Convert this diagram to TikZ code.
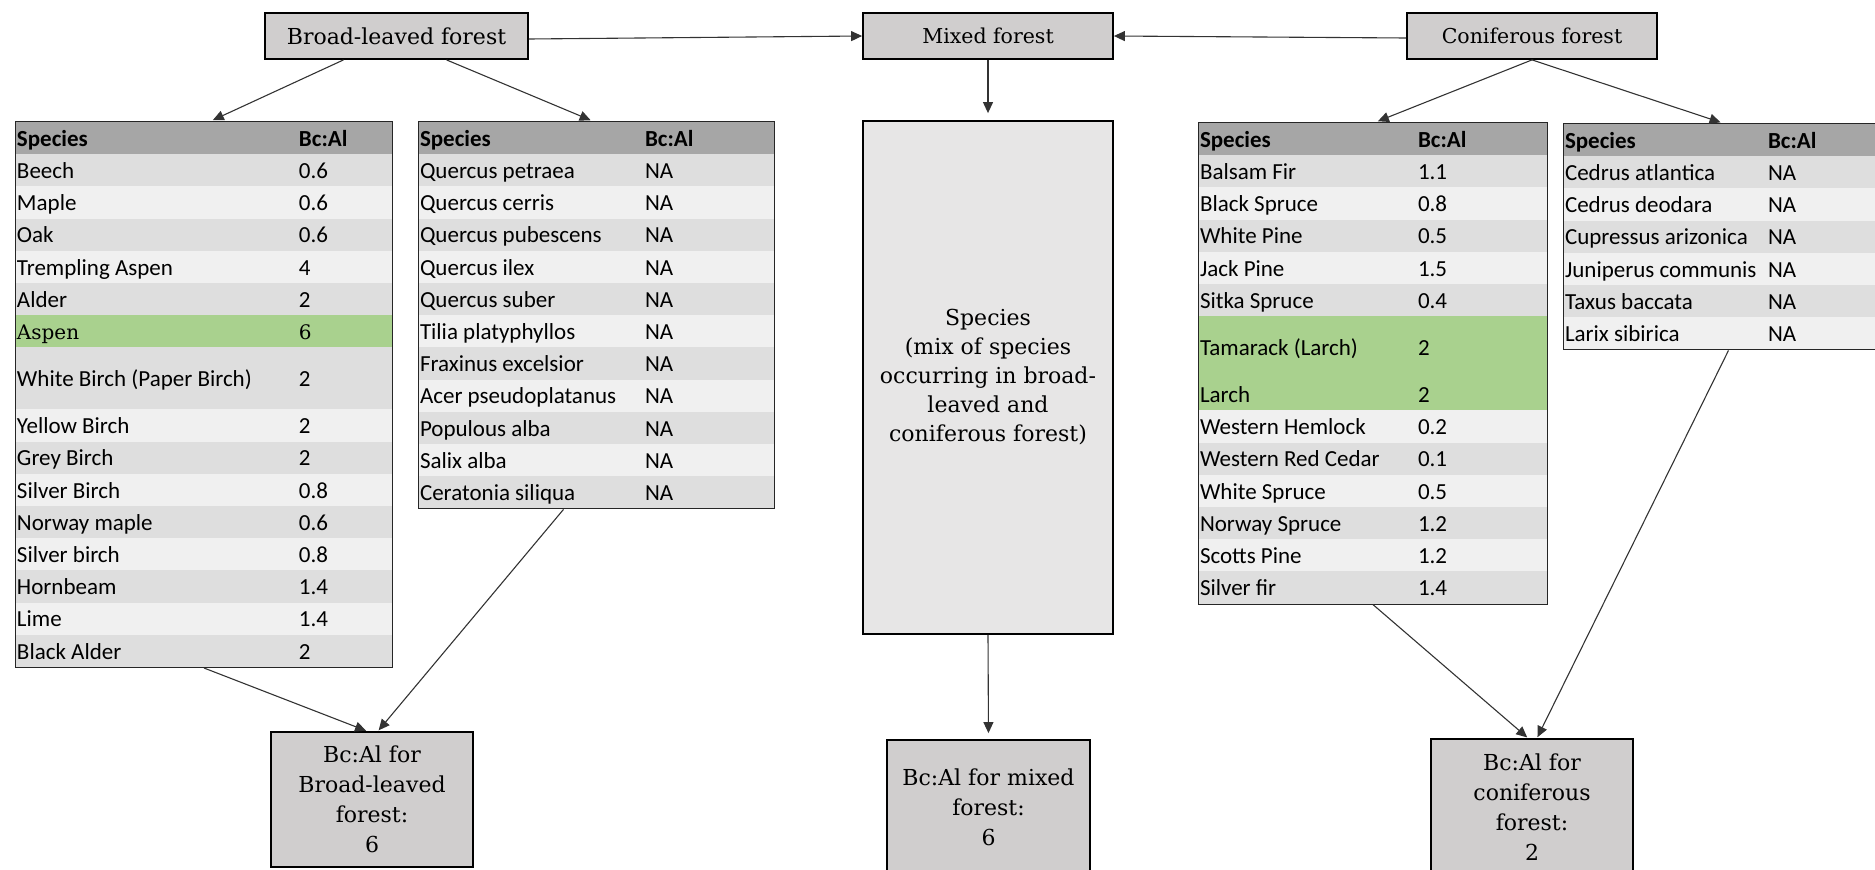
\PassOptionsToPackage{table}{xcolor}
\documentclass[tikz,border=0pt]{standalone}
\usepackage{fontspec}
\setmainfont{DejaVu Serif}
\newfontfamily\tabfont{Carlito}
\usepackage{array}
\usepackage{xcolor}
\usetikzlibrary{arrows.meta}
\definecolor{headGray}{HTML}{A6A6A6}
\definecolor{rowDark}{HTML}{DEDEDE}
\definecolor{rowLight}{HTML}{F0F0F0}
\definecolor{hiGreen}{HTML}{A9D18E}
\definecolor{boxGray}{HTML}{D0CECE}
\definecolor{mixGray}{HTML}{E7E6E6}
\setlength{\tabcolsep}{1pt}
\renewcommand{\arraystretch}{0.9}
\newcommand{\rowstrut}{\rule[-8pt]{0pt}{32.2pt}}
\newcommand{\tallstrut}{\rule[-23pt]{0pt}{62pt}}
\newcommand{\headrow}{\rowcolor{headGray}\textbf{Species} & \textbf{Bc:Al}\\}
\newcommand{\rowD}{\rowcolor{rowDark}}
\newcommand{\rowL}{\rowcolor{rowLight}}
\newcommand{\rowG}{\rowcolor{hiGreen}}

\begin{document}
\begin{tikzpicture}[x=1pt,y=-1pt,
tabnode/.style={draw=black!85,line width=2pt,inner sep=0pt,anchor=north west,font=\tabfont\fontsize{23}{27}\selectfont},
box/.style={draw=black,line width=1.8pt,fill=boxGray,inner sep=0pt,align=center},
topbox/.style={box,minimum width=250pt,minimum height=46pt,font=\fontsize{20.5}{24}\selectfont},
resbox/.style={box,minimum width=202pt,minimum height=135pt,font=\fontsize{22}{30}\selectfont},
arr/.style={-{Triangle[length=11pt,width=10pt]},line width=1.1pt,draw=black!80,shorten >=1pt}]
\useasboundingbox (0,0) rectangle (1875,870);

\node[topbox,minimum width=263pt,font=\fontsize{22}{24}\selectfont] (broad) at (396.5,36) {Broad-leaved forest};
\node[topbox] (mixed) at (988,36) {Mixed forest};
\node[topbox] (conif) at (1532,36) {Coniferous forest};

\node[tabnode] (bltab) at (15,121) {%
\begin{tabular}{>{\rowstrut}w{l}{280pt}w{l}{92pt}}
\headrow
\rowD Beech & 0.6\\
\rowL Maple & 0.6\\
\rowD Oak & 0.6\\
\rowL Trempling Aspen & 4\\
\rowD Alder & 2\\
\rowG {\rmfamily\fontsize{20}{24}\selectfont Aspen} & {\rmfamily\fontsize{20}{24}\selectfont 6}\\
\rowD White Birch (Paper Birch)\tallstrut & 2\\
\rowL Yellow Birch & 2\\
\rowD Grey Birch & 2\\
\rowL Silver Birch & 0.8\\
\rowD Norway maple & 0.6\\
\rowL Silver birch & 0.8\\
\rowD Hornbeam & 1.4\\
\rowL Lime & 1.4\\
\rowD Black Alder & 2\\
\end{tabular}};

\node[tabnode] (qtab) at (418,121) {%
\begin{tabular}{>{\rowstrut}w{l}{223pt}w{l}{128pt}}
\headrow
\rowD Quercus petraea & NA\\
\rowL Quercus cerris & NA\\
\rowD Quercus pubescens & NA\\
\rowL Quercus ilex & NA\\
\rowD Quercus suber & NA\\
\rowL Tilia platyphyllos & NA\\
\rowD Fraxinus excelsior & NA\\
\rowL Acer pseudoplatanus & NA\\
\rowD Populous alba & NA\\
\rowL Salix alba & NA\\
\rowD Ceratonia siliqua & NA\\
\end{tabular}};

\node[box,fill=mixGray,minimum width=250pt,minimum height=513pt,font=\fontsize{22}{29}\selectfont] (mixspec) at (988,377.5)
{Species\\(mix of species\\occurring in broad-\\leaved and\\coniferous forest)};

\node[tabnode] (ctab) at (1198,122) {%
\begin{tabular}{>{\rowstrut}w{l}{216pt}w{l}{128pt}}
\headrow
\rowD Balsam Fir & 1.1\\
\rowL Black Spruce & 0.8\\
\rowD White Pine & 0.5\\
\rowL Jack Pine & 1.5\\
\rowD Sitka Spruce & 0.4\\
\rowG Tamarack (Larch)\tallstrut & 2\\
\rowG Larch & 2\\
\rowL Western Hemlock & 0.2\\
\rowD Western Red Cedar & 0.1\\
\rowL White Spruce & 0.5\\
\rowD Norway Spruce & 1.2\\
\rowL Scotts Pine & 1.2\\
\rowD Silver fir & 1.4\\
\end{tabular}};

\node[tabnode] (ctab2) at (1563,123) {%
\begin{tabular}{>{\rowstrut}w{l}{201pt}w{l}{112pt}}
\headrow
\rowD Cedrus atlantica & NA\\
\rowL Cedrus deodara & NA\\
\rowD Cupressus arizonica & NA\\
\rowL Juniperus communis & NA\\
\rowD Taxus baccata & NA\\
\rowL Larix sibirica & NA\\
\end{tabular}};

\node[resbox] (blres) at (372,799.5) {Bc:Al for\\Broad-leaved\\forest:\\6};
\node[resbox,minimum width=203pt] (mixres) at (988.5,807.5) {Bc:Al for mixed\\forest:\\6};
\node[resbox,minimum height=136pt] (conres) at (1532,807) {Bc:Al for\\coniferous\\forest:\\2};

\draw[arr,shorten >=2pt] ([xshift=-53pt]broad.south) -- ([xshift=7pt]bltab.north);
\draw[arr,shorten >=2pt] ([xshift=50pt]broad.south) -- ([xshift=-4pt]qtab.north);
\draw[arr,shorten >=0pt] ([yshift=-3pt]broad.east) -- (mixed.west);
\draw[arr,shorten >=0pt] ([yshift=-2pt]conif.west) -- (mixed.east);
\draw[arr,shorten >=7pt] (mixed.south) -- (mixspec.north);
\draw[arr,shorten >=2pt] (conif.south) -- ([xshift=3pt]ctab.north);
\draw[arr,shorten >=2pt] (conif.south) -- (ctab2.north);
\draw[arr] (bltab.south) -- ([xshift=-5pt]blres.north);
\draw[arr] ([xshift=-33pt]qtab.south) -- ([xshift=6pt]blres.north);
\draw[arr,shorten >=6pt] (mixspec.south) -- (mixres.north);
\draw[arr] (ctab.south) -- ([xshift=-4pt]conres.north);
\draw[arr] ([xshift=6pt]ctab2.south) -- ([xshift=5pt]conres.north);
\end{tikzpicture}
\end{document}
